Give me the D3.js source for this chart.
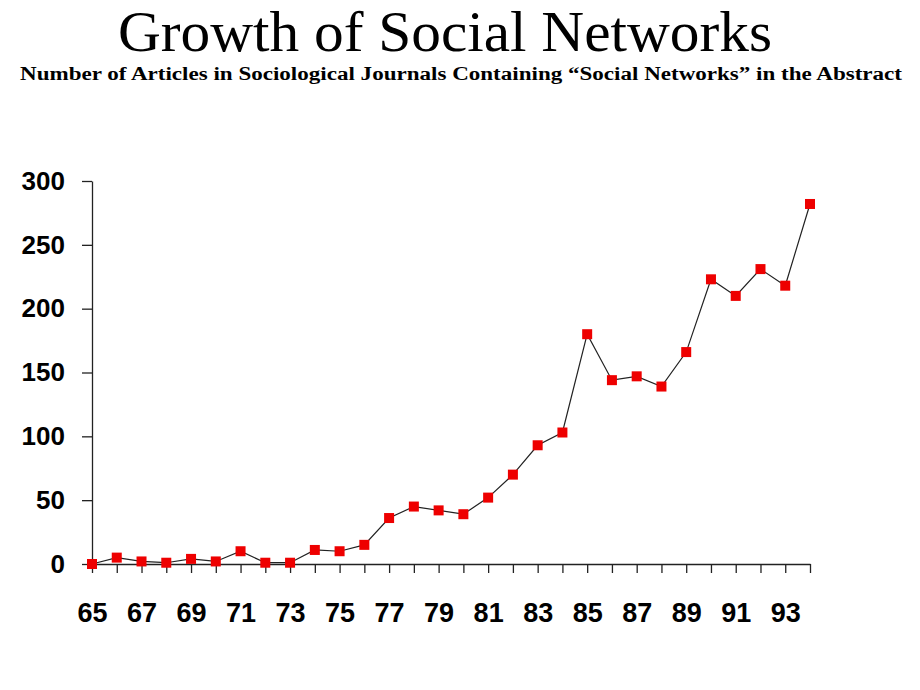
<!DOCTYPE html>
<html>
<head>
<meta charset="utf-8">
<script src="https://cdn.jsdelivr.net/npm/d3@7"></script>
<style>
    body { margin: 0; background: #fff; }
</style>
</head>
<body>
<div id="chart"></div>
<script>
// data
var years = [65, 66, 67, 68, 69, 70, 71, 72, 73, 74, 75, 76, 77, 78, 79,
             80, 81, 82, 83, 84, 85, 86, 87, 88, 89, 90, 91, 92, 93, 94];
var articles = [0, 5, 2, 1, 4, 2, 10, 1, 1, 11, 10, 15, 36, 45, 42,
                39, 52, 70, 93, 103, 180, 144, 147, 139, 166, 223, 210, 231, 218, 282];
var xLabels = ["65", "67", "69", "71", "73", "75", "77", "79", "81", "83", "85", "87", "89", "91", "93"];
var yTicks = [0, 50, 100, 150, 200, 250, 300];

var title = "Growth of Social Networks";
var subtitle = "Number of Articles in Sociological Journals Containing \u201cSocial Networks\u201d in the Abstract";

var W = 920, H = 690;

let svg = d3.select("#chart")
    .append("svg")
    .attr("width", W)
    .attr("height", H);

// titles
svg.append("text")
    .attr("x", 445)
    .attr("y", 51)
    .attr("text-anchor", "middle")
    .attr("font-family", "Liberation Serif, Times New Roman, serif")
    .attr("font-size", 56)
    .attr("textLength", 654)
    .attr("lengthAdjust", "spacingAndGlyphs")
    .text(title);

svg.append("text")
    .attr("x", 461)
    .attr("y", 80)
    .attr("text-anchor", "middle")
    .attr("font-family", "Liberation Serif, Times New Roman, serif")
    .attr("font-weight", "bold")
    .attr("font-size", 18)
    .attr("textLength", 882)
    .attr("lengthAdjust", "spacingAndGlyphs")
    .text(subtitle);

// scales
let x = d3.scaleLinear()
    .domain([d3.min(years), d3.max(years)])
    .range([92, 810]);
let y = d3.scaleLinear()
    .domain([0, 300])
    .range([564, 181]);

// X axis
let xAxis = svg.append("g")
    .attr("transform", "translate(0," + y(0) + ")")
    .call(d3.axisBottom(x)
        .tickValues(years)
        .tickSize(9)
        .tickSizeOuter(0)
        .tickPadding(30)
        .tickFormat(function(d) { return xLabels.indexOf(String(d)) >= 0 ? String(d) : ""; }));

// Y axis
let yAxis = svg.append("g")
    .attr("transform", "translate(" + x(65) + ",0)")
    .call(d3.axisLeft(y)
        .tickValues(yTicks)
        .tickSize(10)
        .tickSizeOuter(0)
        .tickPadding(17));

[xAxis, yAxis].forEach(function(a) {
    a.selectAll("path, line").attr("stroke", "#222").attr("stroke-width", 1.3);
    a.selectAll("text")
        .attr("fill", "#000")
        .attr("font-family", "Liberation Sans, Arial, sans-serif")
        .attr("font-weight", "bold")
        .attr("font-size", 26);
});
xAxis.selectAll("text").attr("font-size", 27);

// the line
svg.append("path")
    .datum(years)
    .attr("fill", "none")
    .attr("stroke", "#222")
    .attr("stroke-width", 1.2)
    .attr("d", d3.line()
        .x(function(d) { return x(d); })
        .y(function(d, i) { return y(articles[i]); }));

// square markers
svg.selectAll(".pt")
    .data(years)
    .enter()
    .append("rect")
    .attr("class", "pt")
    .attr("x", function(d) { return x(d) - 5; })
    .attr("y", function(d, i) { return y(articles[i]) - 5; })
    .attr("width", 10)
    .attr("height", 10)
    .attr("fill", "#ee0000");
</script>
</body>
</html>
